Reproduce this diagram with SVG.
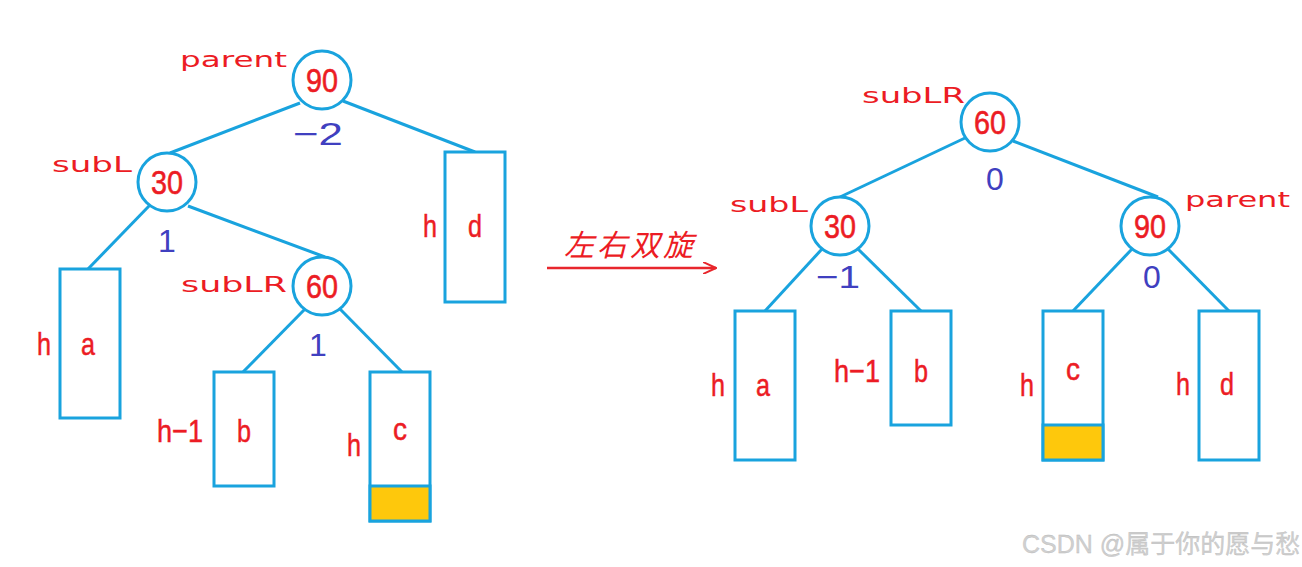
<svg xmlns="http://www.w3.org/2000/svg" width="1302" height="567" viewBox="0 0 1302 567">
<style>
.edge{stroke:#19a3de;stroke-width:3;fill:none}
.node circle{fill:#fff;stroke:#19a3de;stroke-width:3}
.box{fill:#fff;stroke:#19a3de;stroke-width:3}
.fill{fill:#fec80c;stroke:#19a3de;stroke-width:3}
.num{font-family:"Liberation Sans",Arial,sans-serif;font-size:34px;fill:#ec1c24;text-anchor:middle;stroke:#ec1c24;stroke-width:0.6}
.lbl{font-family:"DejaVu Sans",sans-serif;font-size:22px;fill:#ec1c24}
.bf{font-family:"Liberation Sans",Arial,sans-serif;font-size:32px;fill:#4040c0;text-anchor:middle}
.t{font-family:"Liberation Sans",Arial,sans-serif;font-size:32px;fill:#ec1c24;text-anchor:middle;stroke:#ec1c24;stroke-width:0.5}
</style>
<defs>
<marker id="ah" viewBox="0 0 14 12" refX="13" refY="6" markerWidth="14" markerHeight="12" markerUnits="userSpaceOnUse" orient="auto">
<path d="M0,0 L13,6 L0,12" fill="none" stroke="#e8262c" stroke-width="2"/>
</marker>
</defs>
<g id="connectors">
<line class="edge" x1="300" y1="103" x2="170" y2="153"/>
<line class="edge" x1="343" y1="101" x2="475" y2="152"/>
<line class="edge" x1="150" y1="205" x2="88" y2="269"/>
<line class="edge" x1="188" y1="206" x2="325" y2="257"/>
<line class="edge" x1="305" y1="309" x2="243" y2="372"/>
<line class="edge" x1="340" y1="309" x2="402" y2="372"/>
<line class="edge" x1="965" y1="138" x2="840" y2="197"/>
<line class="edge" x1="1013" y1="141" x2="1158" y2="197"/>
<line class="edge" x1="822" y1="249" x2="765" y2="311"/>
<line class="edge" x1="858" y1="249" x2="921" y2="311"/>
<line class="edge" x1="1132" y1="249" x2="1073" y2="311"/>
<line class="edge" x1="1168" y1="249" x2="1229" y2="311"/>
<line x1="547" y1="268" x2="716" y2="268" stroke="#e8262c" stroke-width="2.5" marker-end="url(#ah)"/>
</g>
<g id="arrow-label"><text x="630" y="256" font-family="Noto Sans CJK SC,sans-serif" font-size="30" font-style="italic" fill="#ec1c24" text-anchor="middle" letter-spacing="3">左右双旋</text></g>
<!-- left tree -->
<g id="L90" class="node"><circle cx="322" cy="80" r="29"/><text class="num" x="322" y="92" textLength="32" lengthAdjust="spacingAndGlyphs">90</text><text class="lbl" x="180" y="67" textLength="107" lengthAdjust="spacingAndGlyphs">parent</text><text class="bf" x="318" y="145" textLength="50" lengthAdjust="spacingAndGlyphs">−2</text></g>
<g id="L30" class="node"><circle cx="167" cy="182" r="29"/><text class="num" x="167" y="194" textLength="32" lengthAdjust="spacingAndGlyphs">30</text><text class="lbl" x="52" y="172" textLength="80" lengthAdjust="spacingAndGlyphs">subL</text><text class="bf" x="167" y="252">1</text></g>
<g id="L60" class="node"><circle cx="322" cy="286" r="29"/><text class="num" x="322" y="298" textLength="32" lengthAdjust="spacingAndGlyphs">60</text><text class="lbl" x="181" y="292" textLength="106" lengthAdjust="spacingAndGlyphs">subLR</text><text class="bf" x="318" y="356">1</text></g>
<g id="Ld"><rect class="box" x="445" y="152" width="60" height="150"/><text class="t" x="430" y="237" textLength="14" lengthAdjust="spacingAndGlyphs">h</text><text class="t" x="475" y="237" textLength="14" lengthAdjust="spacingAndGlyphs">d</text></g>
<g id="La"><rect class="box" x="60" y="269" width="60" height="149"/><text class="t" x="44" y="355" textLength="14" lengthAdjust="spacingAndGlyphs">h</text><text class="t" x="88" y="355" textLength="14" lengthAdjust="spacingAndGlyphs">a</text></g>
<g id="Lb"><rect class="box" x="214" y="372" width="60" height="114"/><text class="t" x="180" y="442" textLength="46" lengthAdjust="spacingAndGlyphs">h−1</text><text class="t" x="244" y="442" textLength="14" lengthAdjust="spacingAndGlyphs">b</text></g>
<g id="Lc"><rect class="box" x="370" y="372" width="60" height="149"/><rect class="fill" x="370" y="486" width="60" height="35"/><text class="t" x="400" y="440" textLength="14" lengthAdjust="spacingAndGlyphs">c</text><text class="t" x="354" y="456" textLength="14" lengthAdjust="spacingAndGlyphs">h</text></g>
<!-- right tree -->
<g id="R60" class="node"><circle cx="990" cy="122" r="29"/><text class="num" x="990" y="134" textLength="32" lengthAdjust="spacingAndGlyphs">60</text><text class="lbl" x="862" y="103" textLength="103" lengthAdjust="spacingAndGlyphs">subLR</text><text class="bf" x="995" y="190">0</text></g>
<g id="R30" class="node"><circle cx="840" cy="226" r="29"/><text class="num" x="840" y="238" textLength="32" lengthAdjust="spacingAndGlyphs">30</text><text class="lbl" x="730" y="212" textLength="78" lengthAdjust="spacingAndGlyphs">subL</text><text class="bf" x="838" y="288" textLength="44" lengthAdjust="spacingAndGlyphs">−1</text></g>
<g id="R90" class="node"><circle cx="1150" cy="226" r="29"/><text class="num" x="1150" y="238" textLength="32" lengthAdjust="spacingAndGlyphs">90</text><text class="lbl" x="1185" y="207" textLength="105" lengthAdjust="spacingAndGlyphs">parent</text><text class="bf" x="1152" y="288">0</text></g>
<g id="Ra"><rect class="box" x="735" y="311" width="60" height="149"/><text class="t" x="718" y="396" textLength="14" lengthAdjust="spacingAndGlyphs">h</text><text class="t" x="763" y="396" textLength="14" lengthAdjust="spacingAndGlyphs">a</text></g>
<g id="Rb"><rect class="box" x="891" y="311" width="60" height="114"/><text class="t" x="857" y="382" textLength="46" lengthAdjust="spacingAndGlyphs">h−1</text><text class="t" x="921" y="382" textLength="14" lengthAdjust="spacingAndGlyphs">b</text></g>
<g id="Rc"><rect class="box" x="1043" y="311" width="60" height="149"/><rect class="fill" x="1043" y="425" width="60" height="35"/><text class="t" x="1073" y="380" textLength="14" lengthAdjust="spacingAndGlyphs">c</text><text class="t" x="1027" y="396" textLength="14" lengthAdjust="spacingAndGlyphs">h</text></g>
<g id="Rd"><rect class="box" x="1199" y="311" width="60" height="149"/><text class="t" x="1183" y="395" textLength="14" lengthAdjust="spacingAndGlyphs">h</text><text class="t" x="1227" y="395" textLength="14" lengthAdjust="spacingAndGlyphs">d</text></g>
<g id="watermark"><text x="1022" y="553" font-family="Liberation Sans,Noto Sans CJK SC,sans-serif" font-size="25" fill="#d0d0d0" stroke="#b8b8b8" stroke-width="0.3">CSDN @属于你的愿与愁</text></g>
</svg>
